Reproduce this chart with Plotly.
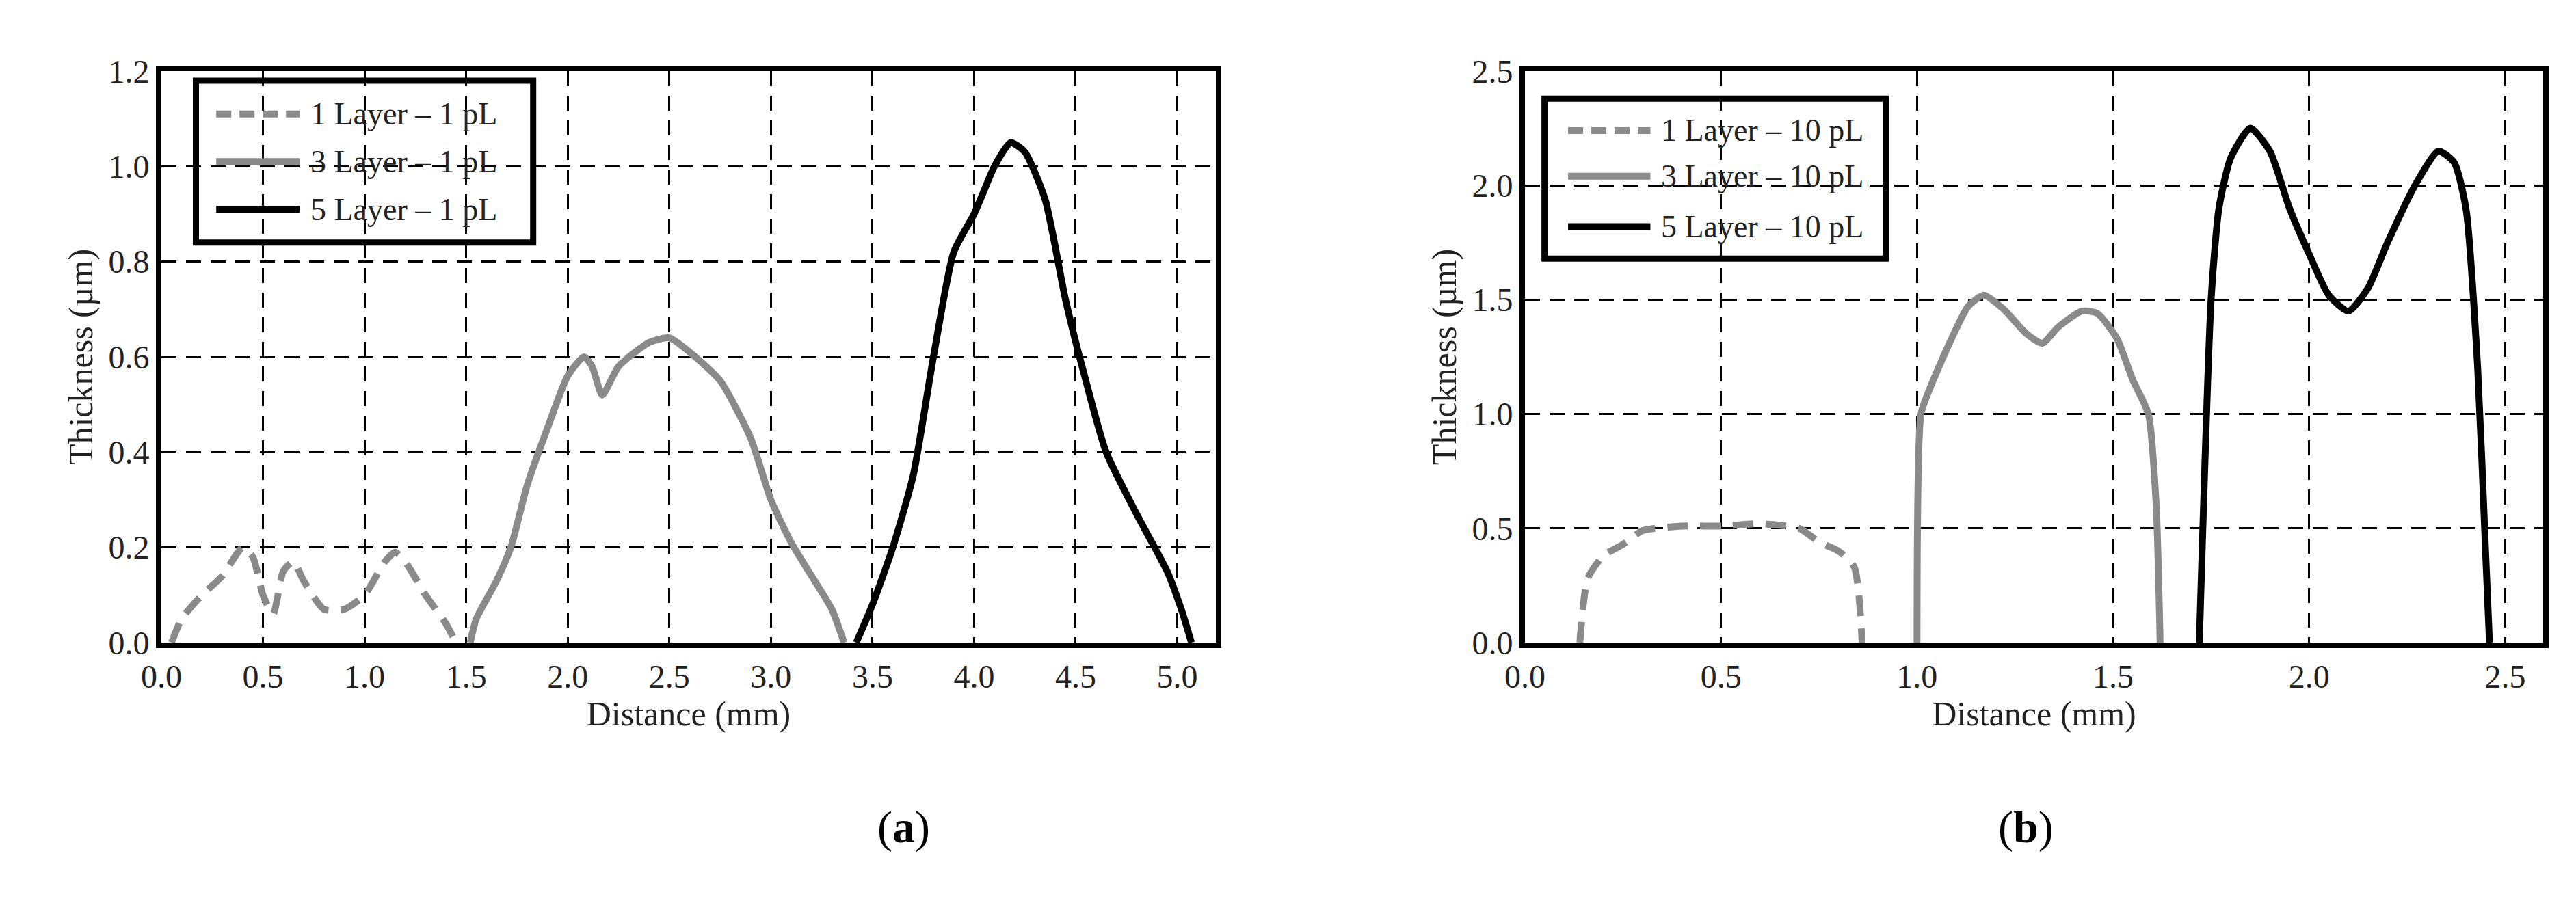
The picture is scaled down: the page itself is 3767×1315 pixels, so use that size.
import plotly.graph_objects as go
from plotly.subplots import make_subplots

# panel (a) 1 pL
a1_x = [0.05, 0.1, 0.2, 0.3, 0.4, 0.45, 0.5, 0.55, 0.6, 0.65, 0.7, 0.8, 0.9, 1.0, 1.1, 1.15, 1.2, 1.3, 1.4, 1.45]
a1_y = [0.0, 0.05, 0.1, 0.14, 0.2, 0.18, 0.1, 0.06, 0.15, 0.17, 0.13, 0.07, 0.07, 0.1, 0.17, 0.19, 0.17, 0.1, 0.04, 0.0]
a3_x = [1.52, 1.55, 1.65, 1.72, 1.8, 1.9, 2.0, 2.08, 2.12, 2.17, 2.25, 2.4, 2.5, 2.6, 2.75, 2.9, 3.0, 3.1, 3.2, 3.3, 3.36]
a3_y = [0.0, 0.05, 0.13, 0.2, 0.33, 0.45, 0.56, 0.6, 0.58, 0.52, 0.58, 0.63, 0.64, 0.61, 0.55, 0.43, 0.3, 0.21, 0.14, 0.07, 0.0]
a5_x = [3.42, 3.5, 3.6, 3.7, 3.8, 3.9, 4.0, 4.05, 4.1, 4.18, 4.25, 4.35, 4.45, 4.55, 4.65, 4.8, 4.95, 5.02, 5.07]
a5_y = [0.0, 0.08, 0.2, 0.35, 0.6, 0.82, 0.9, 0.95, 1.0, 1.05, 1.03, 0.93, 0.72, 0.55, 0.4, 0.27, 0.15, 0.07, 0.0]

# panel (b) 10 pL
b1_x = [0.14, 0.16, 0.2, 0.25, 0.3, 0.4, 0.5, 0.6, 0.7, 0.75, 0.8, 0.84, 0.86]
b1_y = [0.0, 0.28, 0.38, 0.43, 0.49, 0.51, 0.51, 0.52, 0.5, 0.44, 0.4, 0.33, 0.0]
b3_x = [1.0, 1.01, 1.03, 1.08, 1.13, 1.17, 1.22, 1.28, 1.32, 1.36, 1.42, 1.46, 1.51, 1.55, 1.59, 1.61, 1.62]
b3_y = [0.0, 1.0, 1.1, 1.3, 1.47, 1.52, 1.46, 1.35, 1.31, 1.38, 1.45, 1.44, 1.33, 1.15, 1.0, 0.6, 0.0]
b5_x = [1.72, 1.75, 1.77, 1.8, 1.85, 1.9, 1.95, 2.0, 2.05, 2.1, 2.15, 2.2, 2.27, 2.33, 2.37, 2.4, 2.43, 2.45, 2.46]
b5_y = [0.0, 1.5, 1.9, 2.12, 2.25, 2.15, 1.9, 1.7, 1.52, 1.45, 1.55, 1.75, 2.0, 2.15, 2.1, 1.9, 1.2, 0.4, 0.0]

GRAY = "#8a8a8a"
FONT = "Liberation Serif"
LW = 10

fig = make_subplots(rows=1, cols=2, horizontal_spacing=0.12)

series = [
    (a1_x, a1_y, "1 Layer \u2013 1 pL", GRAY, "dash", 1),
    (a3_x, a3_y, "3 Layer \u2013 1 pL", GRAY, "solid", 1),
    (a5_x, a5_y, "5 Layer \u2013 1 pL", "black", "solid", 1),
    (b1_x, b1_y, "1 Layer \u2013 10 pL", GRAY, "dash", 2),
    (b3_x, b3_y, "3 Layer \u2013 10 pL", GRAY, "solid", 2),
    (b5_x, b5_y, "5 Layer \u2013 10 pL", "black", "solid", 2),
]
for x, y, name, c, d, col in series:
    fig.add_trace(go.Scatter(x=x, y=y, mode="lines", name=name,
                             line=dict(color=c, dash="30px,18px" if d == "dash" else d, width=LW,
                                       shape="spline", smoothing=0.6),
                             showlegend=False), row=1, col=col)

# legend boxes: sample lines + text
def legend(col, xref, yref, names, colors, dashes, x0, x1, ys):
    for n, c, d, yy in zip(names, colors, dashes, ys):
        fig.add_trace(go.Scatter(x=[x0, x1], y=[yy, yy], mode="lines", showlegend=False,
                                 line=dict(color=c, dash="22px,12px" if d == "dash" else d, width=LW),
                                 hoverinfo="skip"), row=1, col=col)
        fig.add_annotation(x=x1, y=yy, xref=xref, yref=yref, text=n, showarrow=False,
                           xanchor="left", xshift=14, font=dict(family=FONT, size=46, color="#222"))

legend(1, "x", "y", [s[2] for s in series[:3]], [s[3] for s in series[:3]], ["dash", "solid", "solid"],
       0.27, 0.68, [1.11, 1.01, 0.91])
fig.add_shape(type="rect", xref="x", yref="y", x0=0.17, x1=1.83, y0=0.84, y1=1.18,
              line=dict(color="black", width=9), fillcolor="rgba(0,0,0,0)")
legend(2, "x2", "y2", [s[2] for s in series[3:]], [s[3] for s in series[3:]], ["dash", "solid", "solid"],
       0.11, 0.32, [2.24, 2.04, 1.82])
fig.add_shape(type="rect", xref="x2", yref="y2", x0=0.05, x1=0.92, y0=1.68, y1=2.38,
              line=dict(color="black", width=9), fillcolor="rgba(0,0,0,0)")

axis_common = dict(showline=True, linecolor="black", linewidth=8, mirror=True,
                   showgrid=True, gridcolor="black", gridwidth=3, griddash="22px,14px",
                   zeroline=False, ticks="", tickfont=dict(family=FONT, size=48, color="#222"),
                   tickformat=".1f")
fig.update_xaxes(**axis_common)
fig.update_yaxes(**axis_common)
fig.update_xaxes(range=[0, 5.19], dtick=0.5, row=1, col=1)
fig.update_yaxes(range=[0, 1.2], dtick=0.2, row=1, col=1)
fig.update_xaxes(range=[0, 2.597], dtick=0.5, row=1, col=2)
fig.update_yaxes(range=[0, 2.5], dtick=0.5, row=1, col=2)
for col in (1, 2):
    fig.update_xaxes(title=dict(text="Distance (mm)", font=dict(family=FONT, size=50, color="#222"), standoff=2), row=1, col=col)
    fig.update_yaxes(title=dict(text="Thickness (\u00b5m)", font=dict(family=FONT, size=50, color="#222"), standoff=10), row=1, col=col)

fig.update_layout(
    width=3767, height=1315, paper_bgcolor="white", plot_bgcolor="white",
    margin=dict(l=228, r=56, t=96, b=383),
)
fig.layout.xaxis.domain = [0, (1770 - 228) / (3767 - 284)]
fig.layout.xaxis2.domain = [(2222 - 228) / (3767 - 284), 1]
fig.add_annotation(x=0.3, y=-0.37, xref="paper", yref="paper", text="(<b>a</b>)", showarrow=False,
                   font=dict(family=FONT, size=66, color="black"))
fig.add_annotation(x=0.795, y=-0.37, xref="paper", yref="paper", text="(<b>b</b>)", showarrow=False,
                   font=dict(family=FONT, size=66, color="black"))

fig.write_html("out.html")
